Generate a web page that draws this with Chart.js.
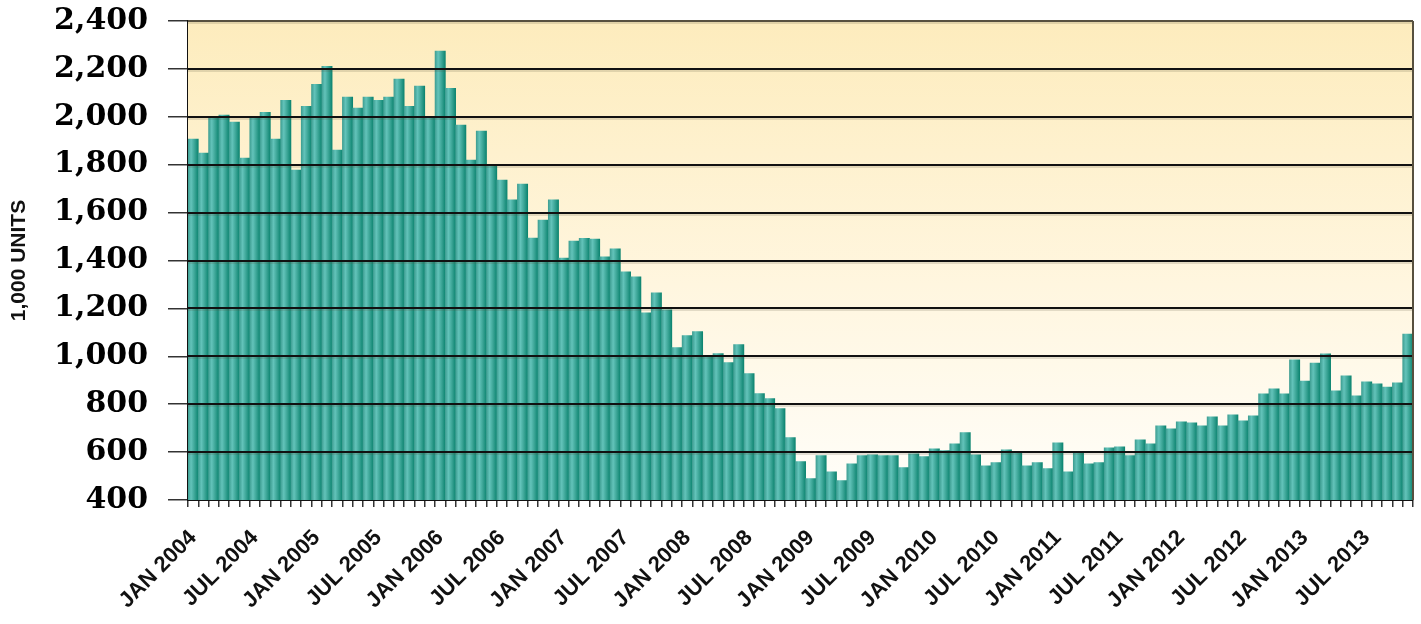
<!DOCTYPE html>
<html>
<head>
<meta charset="utf-8">
<script src="https://cdn.jsdelivr.net/npm/chart.js@4.4.1/dist/chart.umd.min.js"></script>
<style>
  html, body { margin: 0; padding: 0; background: #ffffff; }
  #wrap { width: 1421px; height: 624px; position: relative; }
</style>
</head>
<body>
<div id="wrap"><canvas id="unitsChart"></canvas></div>
<script>
// months and years for the category labels
const MONTHS = ['JAN', 'FEB', 'MAR', 'APR', 'MAY', 'JUN', 'JUL', 'AUG', 'SEP', 'OCT', 'NOV', 'DEC'];
const YEARS = [2004, 2005, 2006, 2007, 2008, 2009, 2010, 2011, 2012, 2013];

// monthly values, 1,000 units
const units2004 = [1907, 1849, 1998, 2007, 1978, 1828, 2000, 2019, 1907, 2069, 1778, 2044];
const units2005 = [2136, 2211, 1861, 2082, 2036, 2082, 2069, 2082, 2157, 2044, 2128, 2000];
const units2006 = [2274, 2119, 1965, 1819, 1940, 1800, 1736, 1653, 1719, 1494, 1569, 1653];
const units2007 = [1410, 1481, 1493, 1489, 1415, 1449, 1353, 1332, 1182, 1265, 1194, 1036];
const units2008 = [1086, 1103, 1000, 1011, 974, 1049, 928, 844, 823, 782, 661, 560];
const units2009 = [489, 585, 518, 481, 551, 585, 589, 585, 585, 535, 593, 581];
const units2010 = [614, 606, 635, 681, 589, 543, 556, 610, 597, 543, 556, 531];
const units2011 = [639, 518, 597, 551, 556, 618, 622, 585, 651, 635, 710, 697];
const units2012 = [726, 722, 710, 747, 710, 756, 731, 751, 843, 864, 843, 985];
const units2013 = [897, 972, 1010, 856, 918, 835, 893, 885, 872, 889, 1093];

const units = [].concat(units2004, units2005, units2006, units2007, units2008,
                        units2009, units2010, units2011, units2012, units2013);

// one label per bar, only JAN / JUL get shown
const labels = [];
YEARS.forEach(y => MONTHS.forEach(m => labels.push(m + ' ' + y)));
labels.length = units.length;

// y axis range
const Y_MIN = 400;
const Y_MAX = 2400;
const Y_STEP = 200;

// cream background of the plot area
const plotBackground = {
  id: 'plotBackground',
  beforeDatasetsDraw(chart) {
    const { ctx, chartArea: a } = chart;
    const g = ctx.createLinearGradient(0, a.top, 0, a.bottom);
    g.addColorStop(0, '#fdecbd');
    g.addColorStop(0.55, '#fff6df');
    g.addColorStop(1, '#fffefa');
    ctx.save();
    ctx.fillStyle = g;
    ctx.fillRect(a.left, a.top, a.right - a.left, a.bottom - a.top);
    ctx.restore();
  }
};

// horizontal grid lines are drawn on top of the bars
const gridOnTop = {
  id: 'gridOnTop',
  afterDatasetsDraw(chart) {
    const { ctx, chartArea: a, scales } = chart;
    const y = scales.y;
    ctx.save();
    y.ticks.forEach(t => {
      const py = Math.round(y.getPixelForValue(t.value));
      if (t.value === Y_MIN) return;
      // faint shadow under each line
      ctx.strokeStyle = 'rgba(90,80,60,0.35)';
      ctx.lineWidth = 1;
      ctx.beginPath();
      ctx.moveTo(a.left, py + 2);
      ctx.lineTo(a.right, py + 2);
      ctx.stroke();
      ctx.strokeStyle = t.value === Y_MAX ? '#57503f' : '#111111';
      ctx.lineWidth = 2;
      ctx.beginPath();
      ctx.moveTo(a.left, py);
      ctx.lineTo(a.right, py);
      ctx.stroke();
    });
    // right border
    ctx.strokeStyle = '#57503f';
    ctx.lineWidth = 2;
    ctx.beginPath();
    ctx.moveTo(a.right, a.top);
    ctx.lineTo(a.right, a.bottom);
    ctx.stroke();
    ctx.restore();
  }
};

// horizontal shading inside each bar
function barFill(context) {
  const chart = context.chart;
  const xs = chart.scales.x;
  if (!xs || !chart.chartArea || context.dataIndex === undefined) return '#3aa89b';
  const c = xs.getPixelForValue(context.dataIndex);
  const w = xs.getPixelForValue(1) - xs.getPixelForValue(0);
  if (!isFinite(c) || !isFinite(w) || w <= 0) return '#3aa89b';
  const g = chart.ctx.createLinearGradient(c - w / 2, 0, c + w / 2, 0);
  g.addColorStop(0, '#3f9f93');
  g.addColorStop(0.3, '#63c3ba');
  g.addColorStop(0.65, '#3aa495');
  g.addColorStop(1, '#0c8470');
  return g;
}

const ctx = document.getElementById('unitsChart').getContext('2d');
new Chart(ctx, {
  type: 'bar',
  data: {
    labels: labels,
    datasets: [{
      label: '1,000 UNITS',
      data: units,
      backgroundColor: barFill,
      borderWidth: 0,
      barPercentage: 1.0,
      categoryPercentage: 1.0
    }]
  },
  options: {
    responsive: true,
    maintainAspectRatio: false,
    animation: false,
    layout: { padding: { top: 21, right: 8, left: 0, bottom: 0 } },
    plugins: {
      legend: { display: false },
      tooltip: { enabled: false }
    },
    scales: {
      x: {
        grid: {
          display: true,
          offset: true,
          drawOnChartArea: false,
          drawTicks: true,
          tickLength: 7,
          color: '#333333',
          lineWidth: 1.5
        },
        border: { display: true, color: '#111111', width: 2 },
        ticks: {
          autoSkip: false,
          minRotation: 45,
          maxRotation: 45,
          padding: 18,
          color: '#111111',
          font: { family: '"Liberation Sans", Arial, sans-serif', size: 22, weight: 'bold' },
          callback: function (value, index) {
            return index % 6 === 0 ? this.getLabelForValue(value) : '';
          }
        },
        afterFit(scale) {
          scale.height = 124;
          scale.paddingLeft = 0;
          scale.paddingRight = 0;
        }
      },
      y: {
        min: Y_MIN,
        max: Y_MAX,
        grid: {
          display: true,
          drawOnChartArea: false,
          drawTicks: true,
          tickLength: 20,
          color: '#333333',
          lineWidth: 1.5
        },
        border: { display: true, color: '#111111', width: 2 },
        ticks: {
          stepSize: Y_STEP,
          padding: 20,
          color: '#000000',
          font: { family: '"DejaVu Serif", serif', size: 30, weight: 'bold' },
          callback: v => v.toLocaleString('en-US')
        },
        title: {
          display: true,
          text: '1,000 UNITS',
          color: '#111111',
          padding: { top: 7, bottom: 0 },
          font: { family: '"Liberation Sans", Arial, sans-serif', size: 21, weight: 'bold' }
        },
        afterFit(scale) {
          scale.width = 188;
          scale.paddingTop = 0;
          scale.paddingBottom = 0;
        }
      }
    }
  },
  plugins: [plotBackground, gridOnTop]
});
</script>
</body>
</html>
